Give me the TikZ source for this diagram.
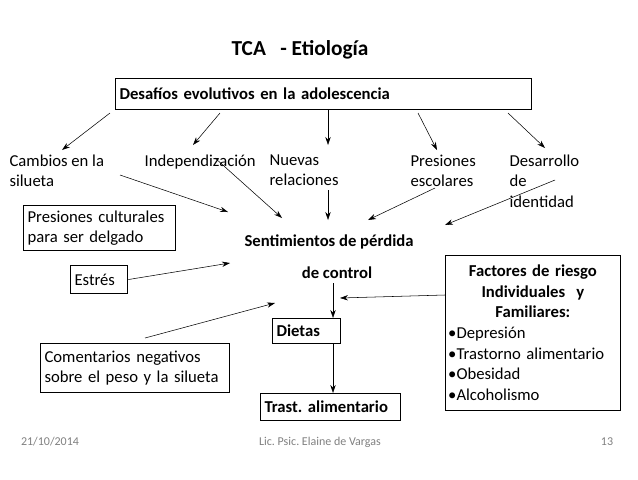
\documentclass[tikz,border=0pt]{standalone}
\usepackage{fontspec}
\setmainfont{Carlito}
\frenchspacing
\usetikzlibrary{arrows.meta}
\tikzset{
  lbl/.style={anchor=north west,align=left,inner sep=1pt,font=\fontsize{12.5}{15.5}\selectfont},
  boxed/.style={draw,thick,anchor=north west,align=left,inner xsep=3pt,inner ysep=1pt,font=\fontsize{12.5}{15.5}\selectfont},
  arr/.style={-{Stealth[length=6pt,width=4pt]}},
  foot/.style={text=gray,font=\fontsize{9}{11}\selectfont}
}
\begin{document}
\begin{tikzpicture}[x=0.75pt,y=-0.75pt]
\useasboundingbox (0,0) rectangle (638,479);
\node[font=\bfseries\fontsize{16}{19}\selectfont] (title) at (300,50) {TCA\ \ \ - Etiología};
\node[boxed,font=\bfseries\fontsize{12.5}{15.5}\selectfont,text width=306pt,minimum height=23pt] (desafios) at (115,78) {Desafíos evolutivos en la adolescencia};
% consequences of the challenges
\node[lbl] (cambios) at (8,153) {Cambios en la\\silueta};
\node[lbl] (indep) at (143,153) {Independización};
\node[lbl] (nuevas) at (268,153) {Nuevas\\relaciones};
\node[lbl] (presesc) at (409,153) {Presiones\\escolares};
\node[lbl] (desarr) at (508,153) {Desarrollo\\de\\identidad};
\node[boxed,text width=108pt,minimum height=34pt] (culturales) at (23,205) {Presiones culturales\\ para ser delgado};
\node[font=\bfseries\fontsize{12.5}{15.5}\selectfont] (sent) at (329,242) {Sentimientos de pérdida};
\node[font=\bfseries\fontsize{12.5}{15.5}\selectfont] (control) at (337,273) {de control};
\node[boxed,text width=37pt,minimum height=21pt] (estres) at (70,265) {Estrés};
\node[boxed,font=\bfseries\fontsize{12.5}{15.5}\selectfont,text width=45pt,minimum height=19pt] (dietas) at (272,318) {Dietas};
\node[boxed,font=\bfseries\fontsize{12.5}{15.5}\selectfont,text width=99pt,minimum height=20pt] (trast) at (260,393) {Trast. alimentario};
\node[boxed,text width=136pt,minimum height=37pt] (coment) at (40,343) {Comentarios negativos\\sobre el peso y la silueta};
\node[boxed,inner xsep=2pt,text width=127pt,minimum height=116pt] (factores) at (445,255)
  {\centering\bfseries Factores de riesgo\\Individuales\ \ y\\Familiares:\par
   \raggedright\normalfont •Depresión\\•Trastorno alimentario\\•Obesidad\\•Alcoholismo\par};
% arrows from the challenges box
\coordinate (d1) at (110,113); \coordinate (d2) at (220,113);
\coordinate (d3) at (328,110); \coordinate (d4) at (418,113);
\coordinate (d5) at (508,113);
\draw[arr] (d1) -- (62,150);
\draw[arr] (d2) -- (193,145);
\draw[arr] (d3) -- (328,145);
\draw[arr] (d4) -- (437,150);
\draw[arr] (d5) -- (545,148);
% arrows into the feeling of loss of control
\draw[arr] (120,175) -- (228,212);
\draw[arr] (215,158) -- (282,218);
\draw[arr] (328,190) -- (328,220);
\draw[arr] (435,188) -- (368,220);
\draw[arr] (555,180) -- (445,225);
\draw[arr] (estres.east) -- (230,263);
\draw[arr] (333,283) -- (dietas.north -| 333,0);
\draw[arr] (445,295) -- (340,298);
\draw[arr] (145,338) -- (275,303);
\draw[arr] (dietas.south -| 333,0) -- (trast.north -| 333,0);
% footer
\node[foot] (fecha) at (50,442) {21/10/2014};
\node[foot] (autor) at (320,442) {Lic. Psic. Elaine de Vargas};
\node[foot] (pag) at (607,442) {13};
\end{tikzpicture}
\end{document}
